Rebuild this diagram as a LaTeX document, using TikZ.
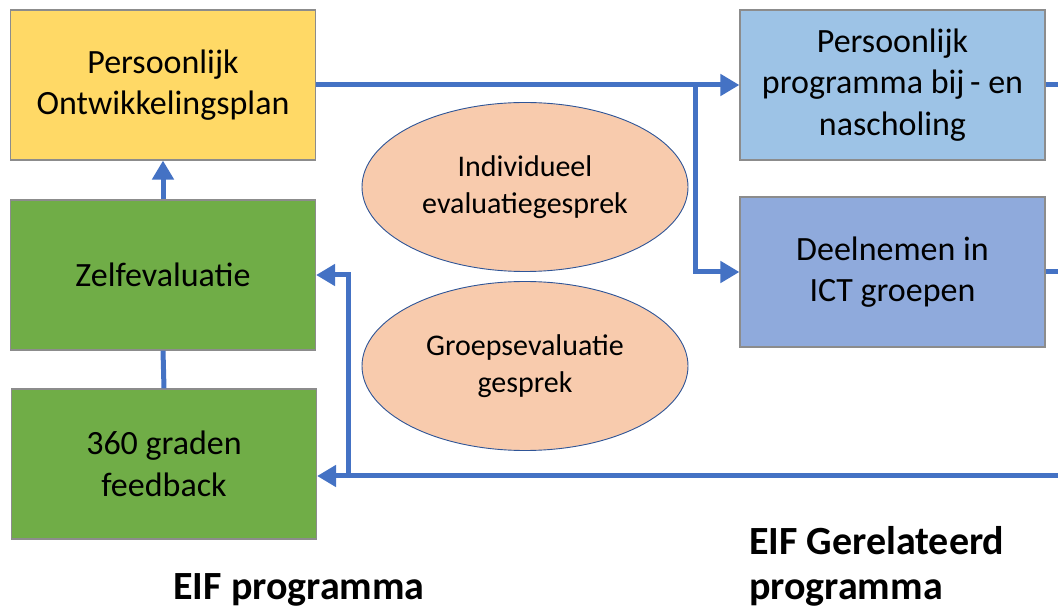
\documentclass[tikz,border=0pt]{standalone}
\usepackage{fontspec}
\setmainfont{Carlito}
\usetikzlibrary{arrows.meta,shapes.geometric}
\definecolor{cyellow}{HTML}{FFD966}
\definecolor{cgreen}{HTML}{70AD47}
\definecolor{clblue}{HTML}{9DC3E6}
\definecolor{cblue}{HTML}{8FAADC}
\definecolor{cpeach}{HTML}{F8CBAD}
\definecolor{cedge}{HTML}{2F5597}
\definecolor{carrow}{HTML}{4472C4}
\definecolor{cgray}{HTML}{8C8C8C}
\begin{document}
\begin{tikzpicture}[x=1pt,y=-1pt,
  box/.style={draw=cgray,line width=1.2pt,minimum width=305pt,minimum height=150pt,inner sep=0pt,
    align=center,font=\fontsize{34}{41.5}\selectfont},
  oval/.style={ellipse,draw=cedge,line width=0.9pt,fill=cpeach,minimum width=326pt,minimum height=169pt,
    inner sep=0pt,align=center,font=\fontsize{30}{37}\selectfont},
  conn/.style={draw=carrow,line width=5pt},
  arr/.style={conn,-{Triangle[length=19pt,width=21pt]}},
  lbl/.style={font=\fontsize{40}{45}\selectfont\bfseries,inner sep=0pt}]
\useasboundingbox (0,0) rectangle (1058,609);
\node[box,fill=cyellow] (pop) at (163,85) {Persoonlijk\\Ontwikkelingsplan};
\node[box,fill=cgreen] (zelf) at (163,275) {Zelfevaluatie};
\node[box,fill=cgreen] (fb) at (164,464) {360 graden\\feedback};
\node[box,fill=clblue] (ppb) at (892.5,85) {Persoonlijk\\programma bij\,- en\\nascholing};
\node[box,fill=cblue] (ict) at (892.5,272) {Deelnemen in\\ICT groepen};
\node[oval] (ie) at (525,187) {Individueel\\evaluatiegesprek};
\node[oval] (ge) at (525,366) {Groepsevaluatie\\gesprek};
\node[lbl] (l1) at (299,590) {EIF programma};
\node[lbl,anchor=west,align=left] (l2) at (749,566) {EIF Gerelateerd\\programma};
\coordinate (br) at (695,85);
\coordinate (bl) at (348,476);
\coordinate (re1) at (1058,85);
\coordinate (re2) at (1058,272);
\coordinate (re3) at (1058,476);
\draw[arr] (pop.east) -- (ppb.west);
\draw[arr] (br) |- (ict.west);
\draw[arr] (zelf.north) -- (pop.south);
\draw[conn] (fb.north) -- (zelf.south);
\draw[arr] (re3) -- (fb.east |- re3);
\draw[arr] (bl) |- (zelf.east);
\draw[conn] (ppb.east) -- (re1);
\draw[conn] (ict.east) -- (re2);
\end{tikzpicture}
\end{document}
